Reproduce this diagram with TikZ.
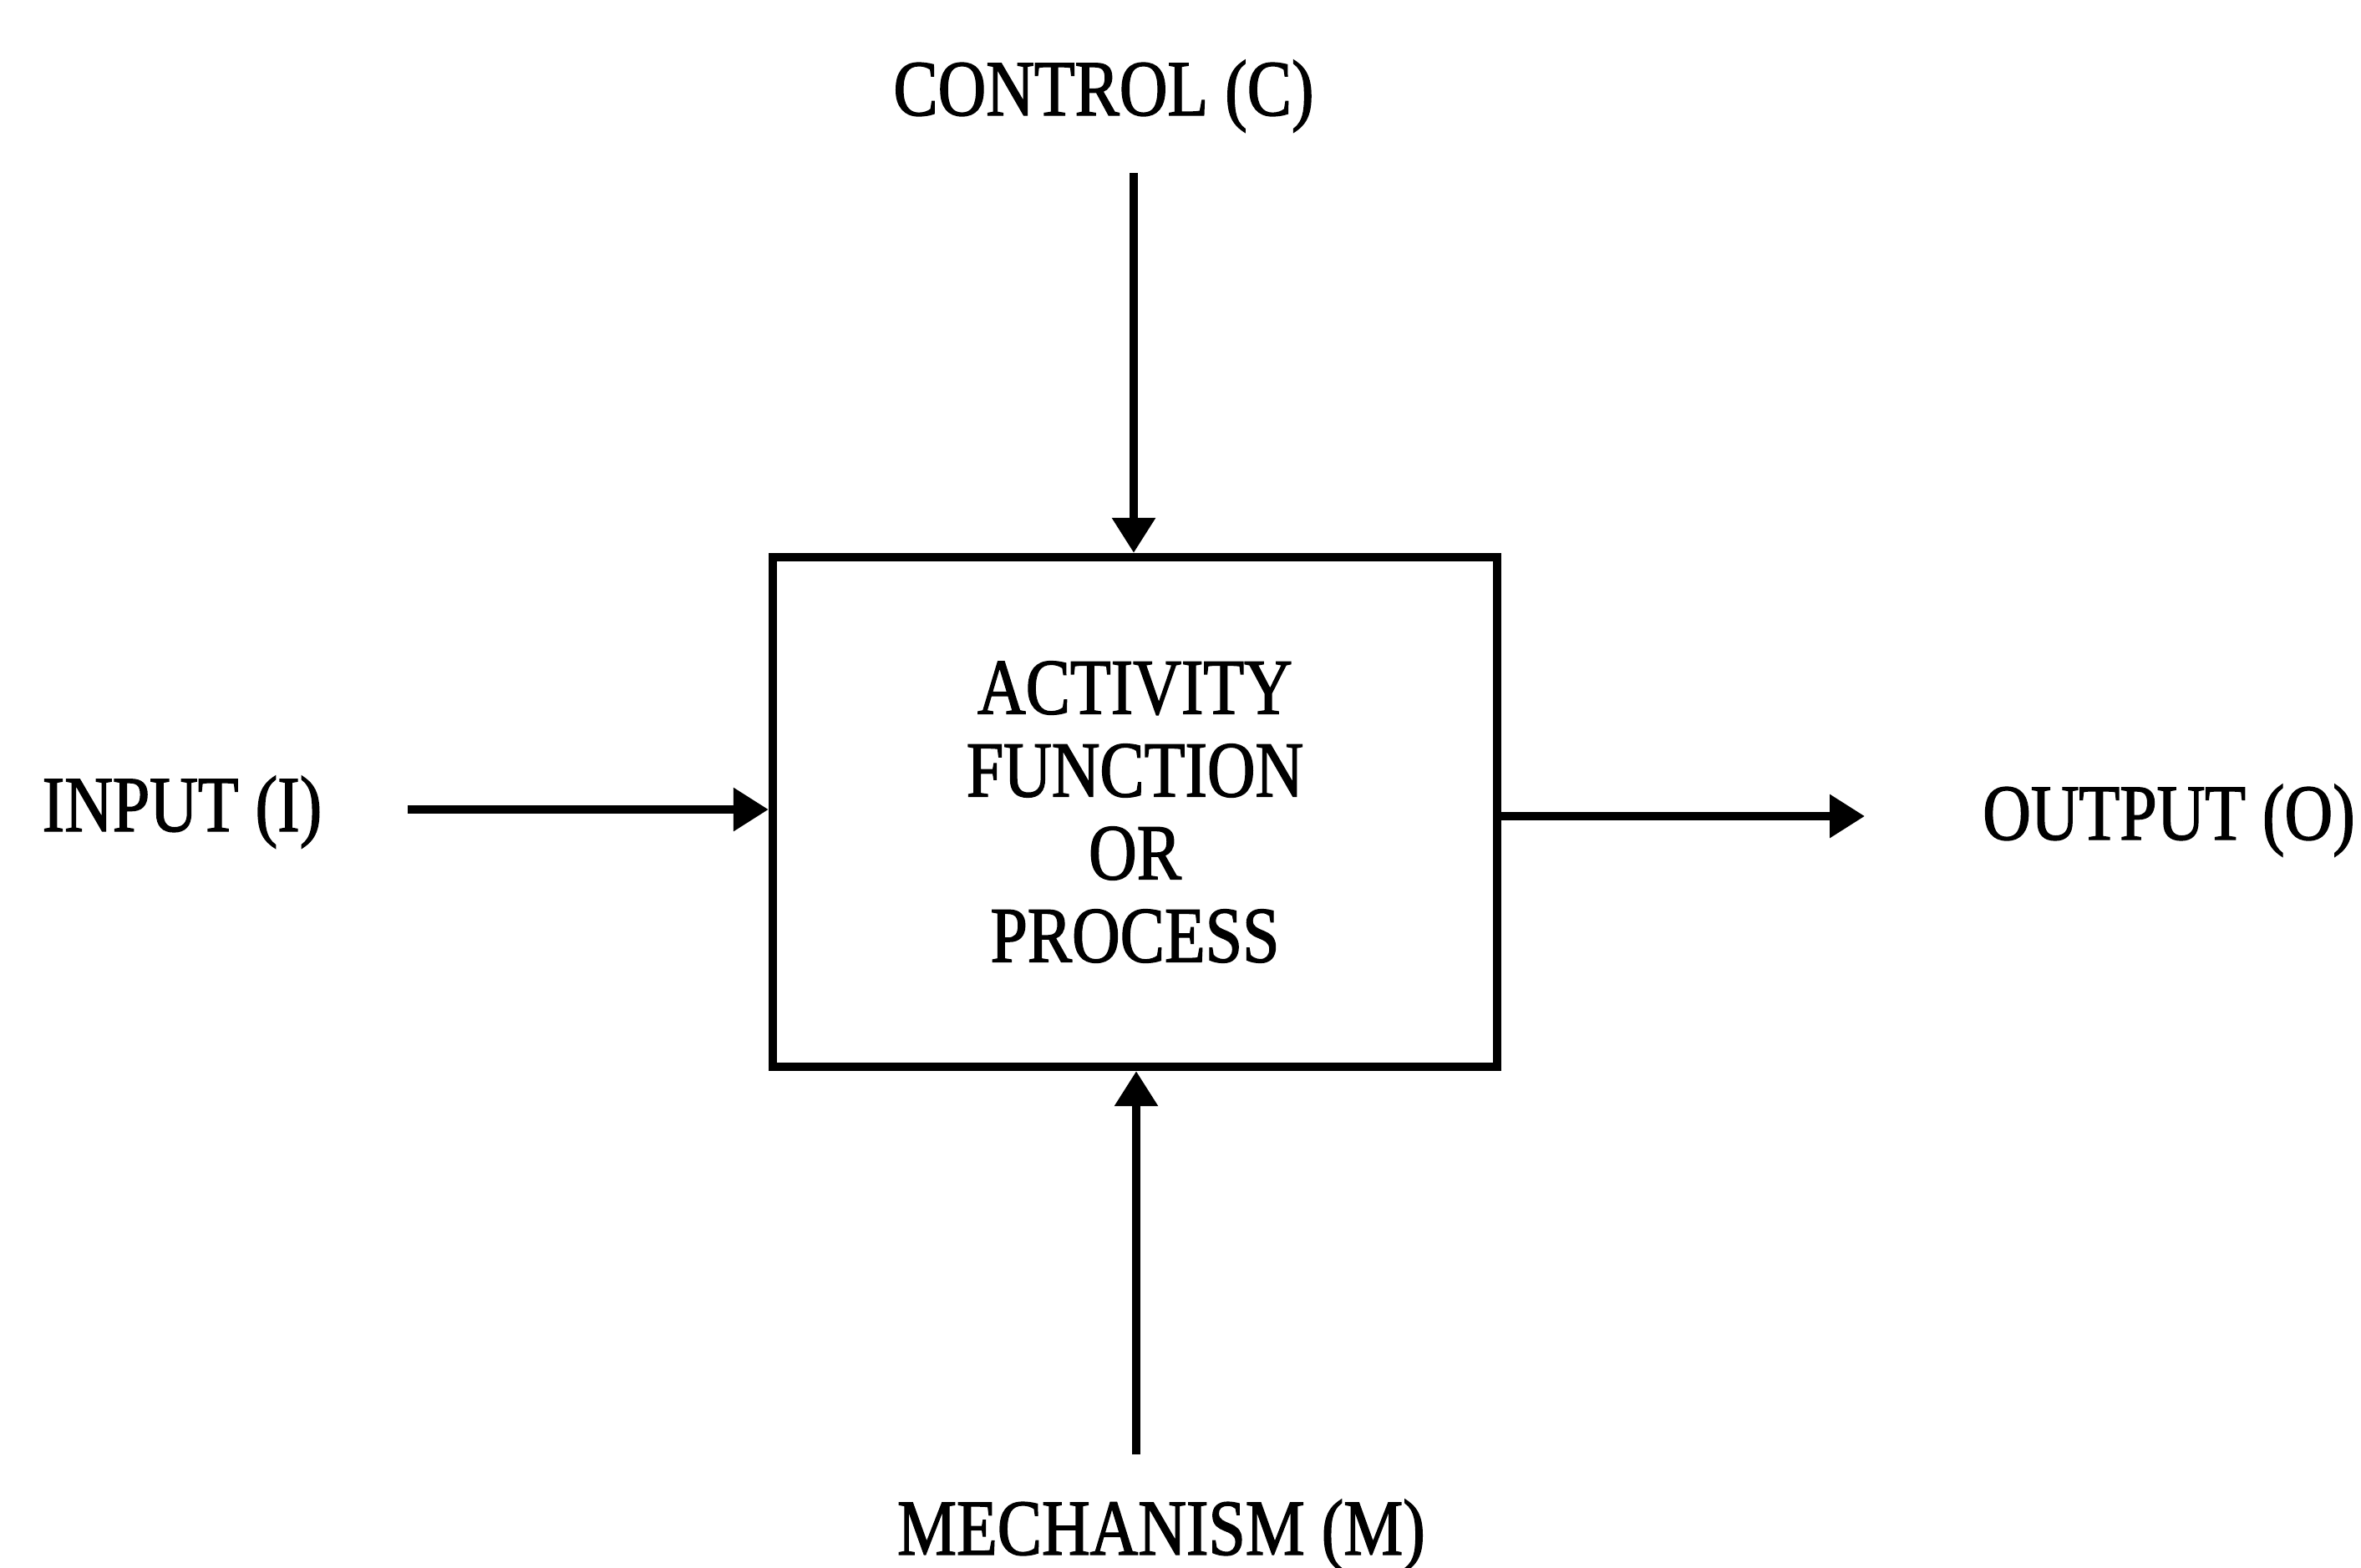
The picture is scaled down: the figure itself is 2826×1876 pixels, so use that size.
\documentclass[tikz,border=0pt]{standalone}
\usepackage{fontspec}
\setmainfont{Liberation Serif}[FakeStretch=0.84, FakeBold=1.5]
\usetikzlibrary{arrows.meta}

\begin{document}
\begin{tikzpicture}[x=0.25pt, y=-0.25pt,
  lbl/.style={inner sep=0pt, anchor=base, font=\fontsize{23.75}{24.75}\selectfont},
  actbox/.style={draw, line width=2.6pt, rectangle, inner sep=0pt,
    minimum width=216.75pt, minimum height=152.5pt, align=center,
    font=\fontsize{23.75}{24.75}\selectfont},
  flow/.style={line width=2.4pt, -{Triangle[length=10.5pt, width=12.5pt]}}]

  \useasboundingbox (0,0) rectangle (2826,1876);

  % central activity box
  \node[actbox] (box) at (1358.5,972) {ACTIVITY\\FUNCTION\\OR\\PROCESS};

  % ICOM labels
  \node[lbl] (ctl) at (1321,138) {CONTROL (C)};
  \node[lbl] (mech) at (1390,1861) {MECHANISM (M)};
  \node[lbl] (inp) at (218,995) {INPUT (I)};
  \node[lbl] (outp) at (2596,1005) {OUTPUT (O)};

  % free ends of the arrows
  \coordinate (ctop) at (1357,207);
  \coordinate (mbot) at (1360,1741);
  \coordinate (istart) at (488,969);
  \coordinate (oend) at (2232,977);

  % arrows
  \draw[flow] (ctop) -- (ctop |- box.north);
  \draw[flow] (mbot) -- (mbot |- box.south);
  \draw[flow] (istart) -- (istart -| box.west);
  \draw[flow] (oend -| box.east) -- (oend);
\end{tikzpicture}
\end{document}
